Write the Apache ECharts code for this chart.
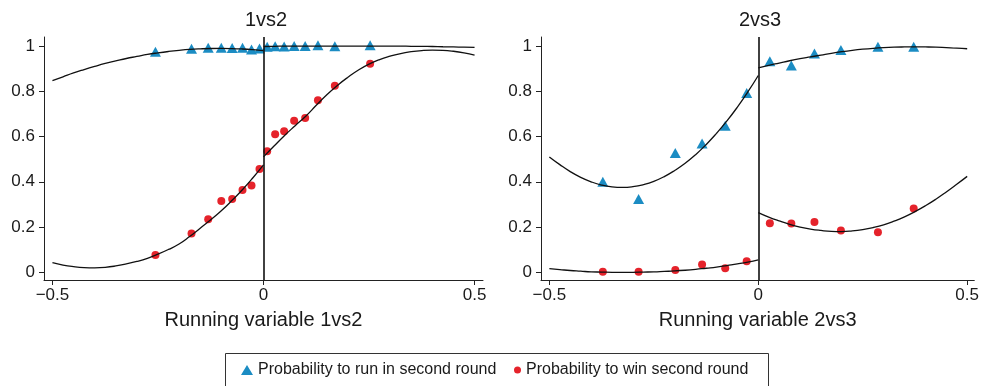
<!DOCTYPE html>
<html>
<head>
<meta charset="utf-8">
<script src="https://cdn.jsdelivr.net/npm/echarts@6/dist/echarts.min.js"></script>
<style>
html,body{margin:0;padding:0;background:#fff;}
#chart{width:982px;height:386px;}
</style>
</head>
<body>
<div id="chart"></div>
<script>
// ---------- data ----------
const panelTitles = ['1vs2', '2vs3'];
const axisNames = ['Running variable 1vs2', 'Running variable 2vs3'];
const seriesNames = ['Probability to run in second round', 'Probability to win second round'];
const xTicks = [-0.5, 0, 0.5];
const yTicks = [0, 0.2, 0.4, 0.6, 0.8, 1];

// panel 1 (1vs2) binned means
const bins1 = [-0.256, -0.1705, -0.131, -0.100, -0.0742, -0.0497, -0.0284, -0.0095, 0.0087, 0.0276, 0.0489, 0.0726, 0.0987, 0.129, 0.169, 0.2526];
const run1 = [0.975, 0.988, 0.992, 0.993, 0.991, 0.993, 0.985, 0.989, 0.997, 0.999, 0.998, 1.0, 1.0, 1.003, 0.999, 1.003];
const win1 = [0.077, 0.172, 0.234, 0.315, 0.324, 0.364, 0.384, 0.457, 0.535, 0.610, 0.623, 0.670, 0.682, 0.760, 0.825, 0.922];

// panel 2 (2vs3) binned means
const bins2 = [-0.372, -0.2864, -0.1986, -0.1345, -0.0791, -0.0277, 0.0277, 0.0791, 0.1345, 0.1978, 0.2864, 0.372];
const run2 = [0.400, 0.3235, 0.527, 0.569, 0.648, 0.793, 0.933, 0.914, 0.967, 0.982, 0.997, 0.997];
const win2 = [0.003, 0.003, 0.010, 0.034, 0.018, 0.049, 0.217, 0.216, 0.222, 0.185, 0.177, 0.282];

// fitted curves, left and right of the cutoff
const fitXLeft = [-0.5, -0.475, -0.45, -0.425, -0.4, -0.375, -0.35, -0.325, -0.3, -0.275, -0.25, -0.225, -0.2, -0.175, -0.15, -0.125, -0.1, -0.075, -0.05, -0.025, 0];
const fitXRight = [0, 0.025, 0.05, 0.075, 0.1, 0.125, 0.15, 0.175, 0.2, 0.225, 0.25, 0.275, 0.3, 0.325, 0.35, 0.375, 0.4, 0.425, 0.45, 0.475, 0.5];
const run1FitLeft = [0.847, 0.864, 0.881, 0.896, 0.910, 0.923, 0.934, 0.945, 0.954, 0.963, 0.970, 0.976, 0.981, 0.985, 0.9876, 0.9892, 0.9896, 0.9889, 0.987, 0.984, 0.980];
const run1FitRight = [0.998, 0.999, 0.9995, 1.0, 1.0, 1.0, 1.0, 1.0, 1.0, 1.0, 1.0, 1.0, 1.0, 0.9995, 0.999, 0.9985, 0.998, 0.997, 0.996, 0.995, 0.994];
const win1FitLeft = [0.043, 0.032, 0.025, 0.021, 0.020, 0.022, 0.028, 0.037, 0.048, 0.062, 0.080, 0.101, 0.125, 0.158, 0.195, 0.232, 0.272, 0.317, 0.365, 0.418, 0.475];
const win1FitRight = [0.510, 0.558, 0.605, 0.648, 0.690, 0.738, 0.785, 0.826, 0.862, 0.894, 0.920, 0.940, 0.955, 0.967, 0.975, 0.980, 0.982, 0.981, 0.977, 0.970, 0.960];
const run2FitLeft = [0.510, 0.476, 0.445, 0.4195, 0.400, 0.3857, 0.3775, 0.375, 0.3784, 0.3875, 0.402, 0.423, 0.450, 0.482, 0.520, 0.564, 0.614, 0.669, 0.730, 0.797, 0.870];
const run2FitRight = [0.904, 0.915, 0.925, 0.935, 0.944, 0.952, 0.960, 0.968, 0.975, 0.981, 0.986, 0.990, 0.993, 0.995, 0.996, 0.9965, 0.996, 0.995, 0.993, 0.991, 0.988];
const win2FitLeft = [0.016, 0.012, 0.008, 0.005, 0.002, 0.001, 0.0, 0.0, 0.0, 0.001, 0.002, 0.004, 0.006, 0.009, 0.013, 0.018, 0.023, 0.030, 0.037, 0.045, 0.055];
const win2FitRight = [0.264, 0.244, 0.227, 0.212, 0.200, 0.191, 0.185, 0.181, 0.180, 0.183, 0.189, 0.198, 0.210, 0.226, 0.245, 0.268, 0.294, 0.323, 0.355, 0.389, 0.424];

// ---------- chart ----------
const FONT = '"Liberation Sans", Arial, Helvetica, sans-serif';
const TXT = '#1a1a1a';
const BLUE = '#1b8cc3';
const RED = '#e5232b';

const zip = (xs, ys) => xs.map((x, i) => [x, ys[i]]);
const fmtX = v => (v < 0 ? '\u2212' : '') + String(Math.abs(Math.round(v * 10) / 10));
const fmtY = v => String(Math.round(v * 10) / 10);

function xAxis(i, name) {
  return {
    type: 'value', gridIndex: i, min: -0.52, max: i === 0 ? 0.52 : 0.517,
    name: name, nameLocation: 'middle', nameGap: 30,
    nameTextStyle: { fontFamily: FONT, fontSize: 20, color: TXT },
    axisLine: { onZero: false, lineStyle: { color: '#222', width: 1 } },
    axisTick: { length: 5, customValues: xTicks, lineStyle: { color: '#222' } },
    axisLabel: { customValues: xTicks, formatter: fmtX, margin: 7, fontFamily: FONT, fontSize: 17, color: TXT },
    splitLine: { show: false }
  };
}
function yAxis(i) {
  return {
    type: 'value', gridIndex: i, min: -0.034, max: 1.04,
    axisLine: { show: true, onZero: false, lineStyle: { color: '#222', width: 1 } },
    axisTick: { show: true, length: 5, customValues: yTicks, lineStyle: { color: '#222' } },
    axisLabel: { customValues: yTicks, formatter: fmtY, margin: 9, fontFamily: FONT, fontSize: 17, color: TXT },
    splitLine: { show: false }
  };
}
function scatter(i, name, xs, ys, sym) {
  return {
    type: 'scatter', name: name, xAxisIndex: i, yAxisIndex: i, data: zip(xs, ys),
    symbol: sym, symbolSize: sym === 'triangle' ? [11, 10] : 8,
    itemStyle: { color: sym === 'triangle' ? BLUE : RED, opacity: 1 },
    z: 2, silent: true
  };
}
function fit(i, id, xs, ys, mark) {
  const s = {
    type: 'line', name: id, xAxisIndex: i, yAxisIndex: i, data: zip(xs, ys),
    smooth: true, showSymbol: false, symbol: 'none',
    lineStyle: { color: '#111', width: 1.3 }, z: 3, silent: true
  };
  if (mark) {
    s.markLine = {
      silent: true, symbol: 'none', label: { show: false },
      lineStyle: { color: '#111', width: 1.6, type: 'solid' },
      data: [{ xAxis: 0 }]
    };
  }
  return s;
}

const chart = echarts.init(document.getElementById('chart'), null, { renderer: 'canvas' });
chart.setOption({
  animation: false,
  backgroundColor: '#fff',
  grid: [
    { left: 44, top: 37, width: 439, height: 243 },
    { left: 541, top: 37, width: 437, height: 243 }
  ],
  xAxis: [xAxis(0, axisNames[0]), xAxis(1, axisNames[1])],
  yAxis: [yAxis(0), yAxis(1)],
  legend: [
    {
      data: [{ name: seriesNames[0], icon: 'triangle' }],
      left: 241, top: 361, padding: 0, itemWidth: 12, itemHeight: 10, itemGap: 0,
      selectedMode: false,
      textStyle: { fontFamily: FONT, fontSize: 16, color: TXT, lineHeight: 18 }
    },
    {
      data: [{ name: seriesNames[1], icon: 'circle' }],
      left: 514, top: 361, padding: 0, itemWidth: 7, itemHeight: 7, itemGap: 0,
      selectedMode: false,
      textStyle: { fontFamily: FONT, fontSize: 16, color: TXT, lineHeight: 18 }
    }
  ],
  graphic: [
    { type: 'text', x: 266, y: 20, style: { text: panelTitles[0], textAlign: 'center', textVerticalAlign: 'middle', font: '20px ' + FONT, fill: TXT } },
    { type: 'text', x: 760, y: 20, style: { text: panelTitles[1], textAlign: 'center', textVerticalAlign: 'middle', font: '20px ' + FONT, fill: TXT } },
    { type: 'rect', shape: { x: 225.5, y: 353.5, width: 543, height: 45 }, style: { fill: 'none', stroke: '#333', lineWidth: 1 }, silent: true }
  ],
  series: [
    scatter(0, seriesNames[0], bins1, run1, 'triangle'),
    scatter(0, seriesNames[1], bins1, win1, 'circle'),
    scatter(1, seriesNames[0], bins2, run2, 'triangle'),
    scatter(1, seriesNames[1], bins2, win2, 'circle'),
    fit(0, 'run1L', fitXLeft, run1FitLeft, true),
    fit(0, 'run1R', fitXRight, run1FitRight),
    fit(0, 'win1L', fitXLeft, win1FitLeft),
    fit(0, 'win1R', fitXRight, win1FitRight),
    fit(1, 'run2L', fitXLeft, run2FitLeft, true),
    fit(1, 'run2R', fitXRight, run2FitRight),
    fit(1, 'win2L', fitXLeft, win2FitLeft),
    fit(1, 'win2R', fitXRight, win2FitRight)
  ]
});
</script>
</body>
</html>
